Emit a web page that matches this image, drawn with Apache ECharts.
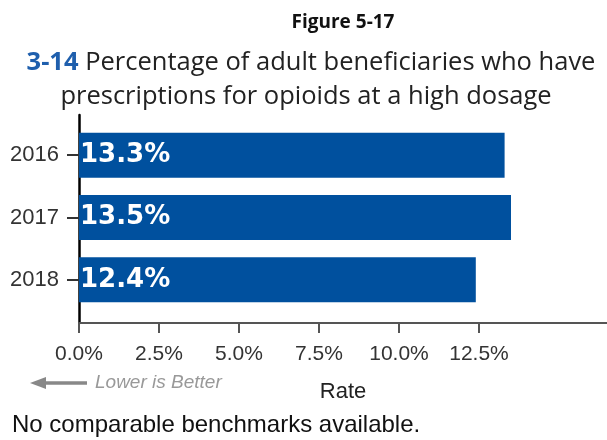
<!DOCTYPE html>
<html><head><meta charset="utf-8">
<script src="https://cdn.jsdelivr.net/npm/echarts@6/dist/echarts.min.js"></script>
<style>html,body{margin:0;padding:0;background:#fff}#c{width:607px;height:440px}</style>
</head><body><div id="c"></div>
<script>
const years = ['2016', '2017', '2018'];
const rates = [13.3, 13.5, 12.4];
const tickValues = [0, 2.5, 5, 7.5, 10, 12.5];
const figureLabel = 'Figure 5-17';
const measureId = '3-14';
const titleLine1 = 'Percentage of adult beneficiaries who have';
const titleLine2 = 'prescriptions for opioids at a high dosage';
const axisName = 'Rate';
const directionNote = 'Lower is Better';
const footnote = 'No comparable benchmarks available.';

const chart = echarts.init(document.getElementById('c'), null, {renderer: 'canvas'});
const XMAX = 16.5;
const option = {
  animation: false,
  backgroundColor: '#fff',
  grid: [
    {left: 79, right: 0, top: 124, height: 187},
    {left: 79, right: 0, top: 115, height: 208}
  ],
  xAxis: [
    {gridIndex: 0, type: 'value', min: 0, max: XMAX, show: false},
    {gridIndex: 1, type: 'value', min: 0, max: XMAX,
     axisLine: {show: true, onZero: false, lineStyle: {color: '#555', width: 2}},
     axisTick: {show: true, customValues: tickValues, length: 10, lineStyle: {color: '#555', width: 2}},
     axisLabel: {customValues: tickValues, formatter: v => v.toFixed(1) + '%', fontFamily: 'Liberation Sans, Arial', fontSize: 21, color: '#333', margin: 21},
     splitLine: {show: false},
     name: axisName, nameLocation: 'middle', nameGap: 58,
     nameTextStyle: {fontFamily: 'Liberation Sans, Arial', fontSize: 22, color: '#222'}
    }
  ],
  yAxis: [
    {gridIndex: 0, type: 'category', data: years, inverse: true,
     axisLine: {show: false},
     axisTick: {show: true, alignWithLabel: true, length: 12, lineStyle: {color: '#333', width: 2}},
     axisLabel: {fontFamily: 'Liberation Sans, Arial', fontSize: 22, color: '#333', margin: 20}
    },
    {gridIndex: 1, type: 'value', min: 0, max: 1,
     axisLine: {show: true, onZero: false, lineStyle: {color: '#000', width: 2.5}},
     axisTick: {show: false}, axisLabel: {show: false}, splitLine: {show: false}
    }
  ],
  series: [{
    type: 'bar', xAxisIndex: 0, yAxisIndex: 0, data: rates, barWidth: 45,
    itemStyle: {color: '#00509E'},
    label: {show: true, position: 'insideLeft', distance: 1,
      formatter: p => p.value.toFixed(1) + '%',
      fontFamily: 'DejaVu Sans', fontWeight: 'bold', fontSize: 26, color: '#fff'}
  }],
  graphic: [
    {type: 'text', x: 343, y: 23, style: {text: figureLabel, fill: '#111', font: 'bold 19px "Open Sans"', align: 'center', verticalAlign: 'middle'}},
    {type: 'text', x: 311, y: 63, style: {text: '{b|' + measureId + '} ' + titleLine1, fill: '#222', font: '25.5px "Open Sans"', align: 'center', verticalAlign: 'middle',
      rich: {b: {fill: '#1F5FAD', font: 'bold 25.5px "Open Sans"'}}}},
    {type: 'text', x: 306, y: 97, style: {text: titleLine2, fill: '#222', font: '25.5px "Open Sans"', align: 'center', verticalAlign: 'middle'}},
    {type: 'polyline', shape: {points: [[44, 383], [87, 383]]}, style: {stroke: '#888', lineWidth: 3.5}},
    {type: 'polygon', shape: {points: [[30, 383], [46, 377], [46, 389]]}, style: {fill: '#888'}},
    {type: 'text', x: 95, y: 383, style: {text: directionNote, fill: '#999', font: 'italic 19px "Liberation Sans"', align: 'left', verticalAlign: 'middle'}},
    {type: 'text', x: 12, y: 425, style: {text: footnote, fill: '#111', font: '24px "Liberation Sans"', align: 'left', verticalAlign: 'middle'}}
  ]
};
chart.setOption(option);
</script>
</body></html>
